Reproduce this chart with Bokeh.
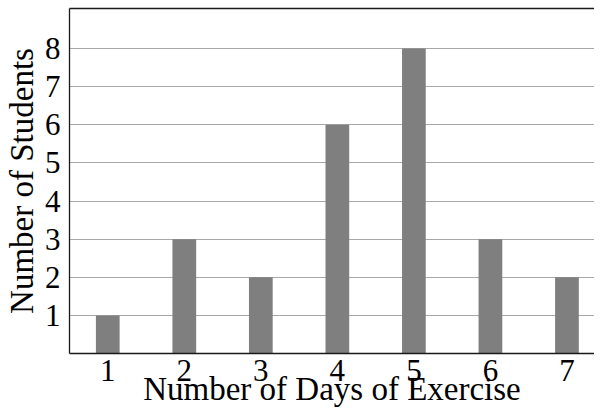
from bokeh.plotting import figure
from bokeh.models import Range1d, LinearAxis, FixedTicker
from bokeh.embed import file_html
from bokeh.resources import INLINE

days = [1, 2, 3, 4, 5, 6, 7]
students = [1, 3, 2, 6, 8, 3, 2]
y_ticks = [1, 2, 3, 4, 5, 6, 7, 8]
x_title = "Number of Days of Exercise"
y_title = "Number of Students"

FONT = "Liberation Serif"
FS = "31px"
TFS = "33px"

p = figure(width=594, height=409, output_backend="svg", toolbar_location=None,
           x_range=Range1d(0.5, 7.36), y_range=Range1d(0, 9.05),
           min_border_left=62, min_border_right=0, min_border_top=8, min_border_bottom=50)
p.outline_line_color = None
p.background_fill_color = "white"

p.vbar(x=days, top=students, width=0.31, fill_color="#7f7f7f", line_color=None)

# axes
p.xaxis.ticker = FixedTicker(ticks=days)
p.yaxis.ticker = FixedTicker(ticks=y_ticks)
for ax in (p.xaxis[0], p.yaxis[0]):
    ax.major_tick_out = 0
    ax.major_tick_in = 0
    ax.minor_tick_out = 0
    ax.minor_tick_in = 0
    ax.axis_line_color = "#1a1a1a"
    ax.axis_line_width = 1.3
    ax.major_label_text_font = FONT
    ax.major_label_text_font_size = FS
    ax.major_label_text_color = "black"
    ax.axis_label_text_font = FONT
    ax.axis_label_text_font_size = TFS
    ax.axis_label_text_font_style = "normal"
    ax.axis_label_text_color = "black"

p.xaxis.axis_label = x_title
p.yaxis.axis_label = y_title
p.xaxis.major_label_standoff = 6
p.xaxis.axis_label_standoff = -13
p.yaxis.major_label_standoff = 9
p.yaxis.axis_label_standoff = 2

# top border line
top = LinearAxis(ticker=FixedTicker(ticks=[]), major_tick_out=0, major_tick_in=0,
                 minor_tick_out=0, minor_tick_in=0, major_label_text_font_size="0px",
                 axis_line_color="#1a1a1a", axis_line_width=1.3)
p.add_layout(top, "above")

p.xgrid.grid_line_color = None
p.ygrid.ticker = FixedTicker(ticks=y_ticks)
p.ygrid.grid_line_color = "#a8a8a8"
p.ygrid.grid_line_width = 1.2

open("out.html", "w").write(file_html(p, INLINE))
